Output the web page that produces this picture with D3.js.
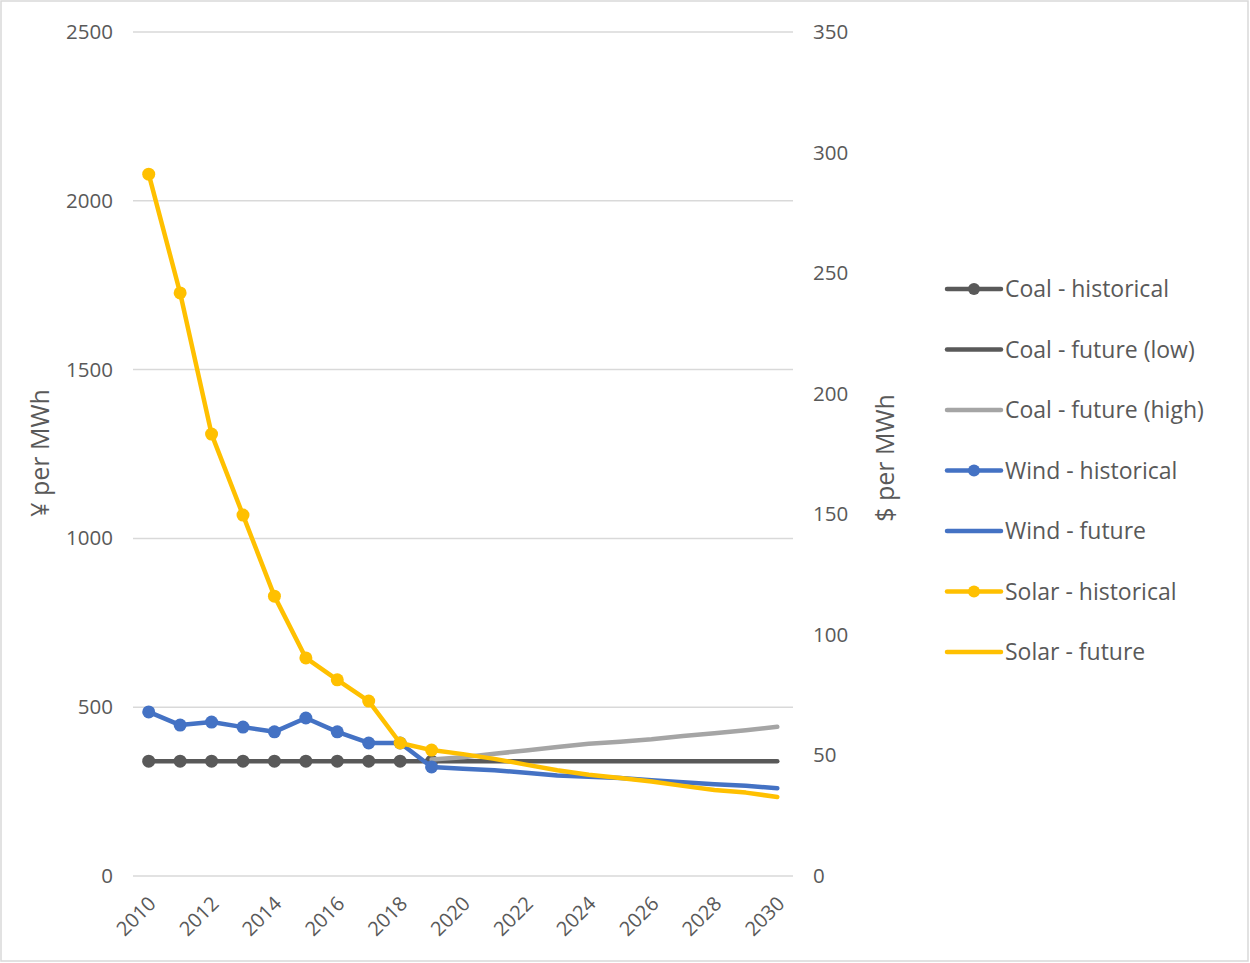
<!DOCTYPE html>
<html>
<head>
<meta charset="utf-8">
<script src="https://cdn.jsdelivr.net/npm/d3@7/dist/d3.min.js"></script>
<style>
  html, body { margin: 0; padding: 0; background: #fff; }
  svg { display: block; }
  text { font-family: "Open Sans", "Liberation Sans", sans-serif; fill: #595959; }
</style>
</head>
<body>
<svg id="chart" width="1250" height="963"></svg>
<script>
// Years on the category axis
const years = d3.range(2010, 2031);
const yearTicks = [2010, 2012, 2014, 2016, 2018, 2020, 2022, 2024, 2026, 2028, 2030];

// Tick labels for both value axes
const yuanTicks = [0, 500, 1000, 1500, 2000, 2500];
const dollarTicks = [0, 50, 100, 150, 200, 250, 300, 350];

// Levelised cost, ¥ per MWh
const coalHistYears = [2010, 2011, 2012, 2013, 2014, 2015, 2016, 2017, 2018, 2019];
const coalHist = [340, 340, 340, 340, 340, 340, 340, 340, 340, 340];

const futureYears = [2019, 2020, 2021, 2022, 2023, 2024, 2025, 2026, 2027, 2028, 2029, 2030];
const coalFutureLow = [340, 340, 340, 340, 340, 340, 340, 340, 340, 340, 340, 340];
const coalFutureHigh = [345, 352, 362, 372, 382, 392, 398, 405, 415, 423, 432, 442];

const windHistYears = coalHistYears;
const windHist = [486, 447, 456, 441, 427, 468, 427, 394, 394, 323];
const windFuture = [323, 318, 313, 306, 298, 294, 290, 284, 278, 272, 267, 260];

const solarHistYears = coalHistYears;
const solarHist = [2079, 1727, 1309, 1069, 829, 646, 581, 518, 394, 373];
const solarFuture = [373, 361, 347, 330, 313, 300, 290, 280, 267, 255, 247, 234];

const series = [
  { name: "Coal - historical",    years: coalHistYears,  values: coalHist,       color: "#595959", markers: true },
  { name: "Coal - future (low)",  years: futureYears,    values: coalFutureLow,  color: "#595959", markers: false },
  { name: "Coal - future (high)", years: futureYears,    values: coalFutureHigh, color: "#A5A5A5", markers: false },
  { name: "Wind - historical",    years: windHistYears,  values: windHist,       color: "#4472C4", markers: true },
  { name: "Wind - future",        years: futureYears,    values: windFuture,     color: "#4472C4", markers: false },
  { name: "Solar - historical",   years: solarHistYears, values: solarHist,      color: "#FFC000", markers: true },
  { name: "Solar - future",       years: futureYears,    values: solarFuture,    color: "#FFC000", markers: false }
];

const svg = d3.select("#chart");

// Outer frame
svg.append("rect")
  .attr("x", 1).attr("y", 1).attr("width", 1247).attr("height", 960)
  .attr("fill", "none").attr("stroke", "#D9D9D9").attr("stroke-width", 1.5);

const x = d3.scalePoint().domain(years).range([133, 793]).padding(0.5);
const yL = d3.scaleLinear().domain([0, 2500]).range([876, 32]);
const yR = d3.scaleLinear().domain([0, 350]).range([876, 32]);

// Horizontal gridlines
svg.append("g").selectAll("line").data(yuanTicks).join("line")
  .attr("x1", 133).attr("x2", 793)
  .attr("y1", d => yL(d)).attr("y2", d => yL(d))
  .attr("stroke", "#D9D9D9").attr("stroke-width", 1.5);

// Left axis labels
const leftAxis = svg.append("g").attr("transform", "translate(113,0)")
  .call(d3.axisLeft(yL).tickValues(yuanTicks).tickFormat(d3.format("d")).tickSize(0).tickPadding(0));
leftAxis.select(".domain").remove();
leftAxis.selectAll("text").attr("fill", "#595959").attr("font-size", 20.5);

// Right axis labels
const rightAxis = svg.append("g").attr("transform", "translate(813,0)")
  .call(d3.axisRight(yR).tickValues(dollarTicks).tickFormat(d3.format("d")).tickSize(0).tickPadding(0));
rightAxis.select(".domain").remove();
rightAxis.selectAll("text").attr("fill", "#595959").attr("font-size", 20.5);

// Category axis labels, rotated
const bottomAxis = svg.append("g").attr("transform", "translate(0,876)")
  .call(d3.axisBottom(x).tickValues(yearTicks).tickFormat(d3.format("d")).tickSize(0).tickPadding(0));
bottomAxis.select(".domain").remove();
bottomAxis.selectAll("text")
  .attr("font-size", 20)
  .attr("text-anchor", "end")
  .attr("dy", "0.35em")
  .attr("transform", "translate(3,24) rotate(-45)")
  .attr("y", 0).attr("x", 0);

// Axis titles
svg.append("text")
  .attr("transform", "translate(49,453) rotate(-90)")
  .attr("text-anchor", "middle")
  .attr("font-size", 25)
  .text("¥ per MWh");
svg.append("text")
  .attr("transform", "translate(894,458) rotate(-90)")
  .attr("text-anchor", "middle")
  .attr("font-size", 25)
  .text("$ per MWh");

// Series lines and markers
const line = d3.line().x(d => x(d.year)).y(d => yL(d.value));
const plot = svg.append("g");
series.forEach(s => {
  s.points = s.years.map((yr, i) => ({ year: yr, value: s.values[i] }));
});
series.forEach(s => {
  plot.append("path")
    .datum(s.points)
    .attr("d", line)
    .attr("fill", "none")
    .attr("stroke", s.color)
    .attr("stroke-width", 4.5)
    .attr("stroke-linejoin", "round")
    .attr("stroke-linecap", "round");
  if (s.markers) {
    plot.append("g").selectAll("circle").data(s.points).join("circle")
      .attr("cx", d => x(d.year)).attr("cy", d => yL(d.value))
      .attr("r", 6.5).attr("fill", s.color);
  }
});

// Legend
const legend = svg.append("g").attr("transform", "translate(947,289)");
const rows = legend.selectAll("g").data(series).join("g")
  .attr("transform", (d, i) => `translate(0,${i * 60.5})`);
rows.append("line")
  .attr("x1", 0).attr("x2", 54).attr("y1", 0).attr("y2", 0)
  .attr("stroke", d => d.color).attr("stroke-width", 4.5).attr("stroke-linecap", "round");
rows.filter(d => d.markers).append("circle")
  .attr("cx", 27).attr("cy", 0).attr("r", 6).attr("fill", d => d.color);
rows.append("text")
  .attr("x", 58).attr("y", 0).attr("dy", "0.35em")
  .attr("font-size", 23)
  .text(d => d.name);
</script>
</body>
</html>
